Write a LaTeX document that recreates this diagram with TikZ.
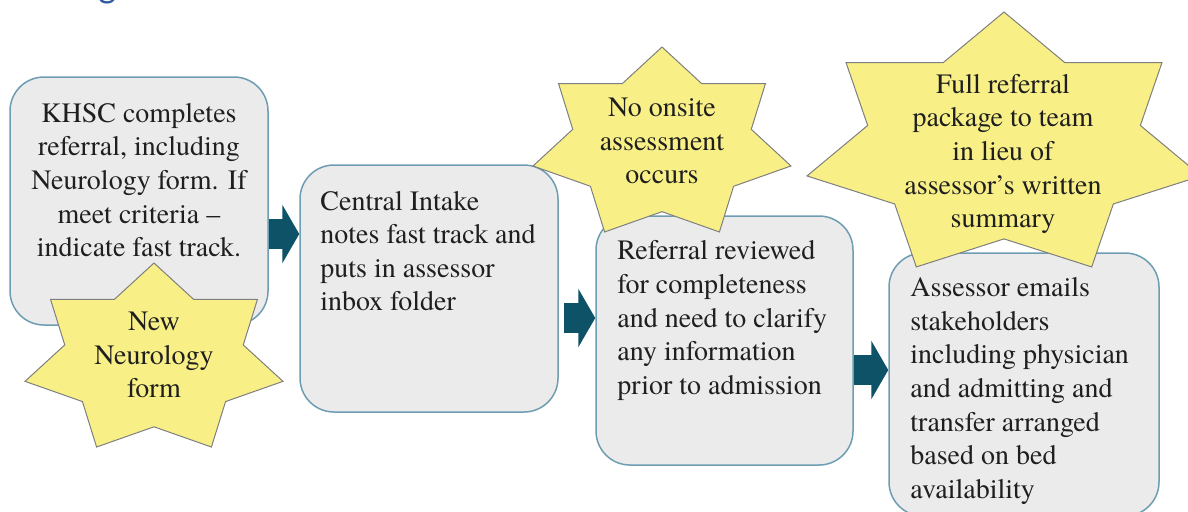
\documentclass[tikz,border=0pt]{standalone}
\usepackage{fontspec}
\setmainfont{TeX Gyre Termes}
\newfontfamily\headfont{Carlito}
\usepackage{xcolor}
\usepackage{tikz}
\usetikzlibrary{arrows.meta}

\definecolor{boxfill}{HTML}{EBEBEB}
\definecolor{boxline}{HTML}{6E9DB3}
\definecolor{burstfill}{HTML}{F8F087}
\definecolor{burstline}{HTML}{7F7F7F}
\definecolor{arrowteal}{HTML}{0D5266}
\definecolor{headblue}{HTML}{2E5D9E}

\tikzset{
  pics/burst/.style 2 args={code={
    \draw[draw=burstline, fill=burstfill, line width=0.5pt]
      plot[samples at={0,...,13}, variable=\k]
      ({ifthenelse(mod(\k,2)==0,1,0.692)*#1*cos(90+\k*180/7)},
       {-ifthenelse(mod(\k,2)==0,1,0.692)*#2*sin(90+\k*180/7)}) -- cycle;
  }}
}

\begin{document}
\begin{tikzpicture}[x=0.5pt, y=-0.5pt, font=\fontsize{14pt}{16.8pt}\selectfont, text=black!88,
  box/.style={draw=boxline, fill=boxfill, line width=0.75pt, rounded corners=17pt, inner sep=0pt},
  boxtext/.style={inner sep=0pt, align=left},
  bursttext/.style={inner sep=0pt, align=center},
  flowarrow/.style={draw=arrowteal, line width=15pt, -{Triangle[width=29pt, length=8.5pt]}}]
  \useasboundingbox (0,0) rectangle (1188,511);
  \node[anchor=base west, inner sep=0pt, text=headblue, font=\headfont\fontsize{19pt}{22pt}\selectfont] (heading) at (98,-3) {g};
  % the four steps
  \node[box, minimum width=129pt, minimum height=124pt] (khsc) at (139,201) {};
  \node[box, minimum width=129pt, minimum height=123.5pt] (intake) at (429,288.5) {};
  \node[box, minimum width=128.5pt, minimum height=124.5pt] (review) at (724.5,340.5) {};
  \node[box, minimum width=135pt, minimum height=131.5pt] (notify) at (1024,384.5) {};
  \node[boxtext, align=center] (khsc text) at (139,180) {KHSC completes\\referral, including\\Neurology form. If\\meet criteria –\\indicate fast track.};
  \node[boxtext, anchor=west] (intake text) at (320,251) {Central Intake\\notes fast track and\\puts in assessor\\inbox folder};
  \node[boxtext, anchor=west] (review text) at (617,320.5) {Referral reviewed\\for completeness\\and need to clarify\\any information\\prior to admission};
  \node[boxtext, anchor=west] (notify text) at (910,391) {Assessor emails\\stakeholders\\including physician\\and admitting and\\transfer arranged\\based on bed\\availability};
  % arrows
  \coordinate (a1) at ([yshift=-16.5pt]khsc.east);
  \coordinate (a2) at ([xshift=2.5pt, yshift=-14.75pt]intake.east);
  \coordinate (a3) at ([yshift=-14.75pt]review.east);
  \draw[flowarrow] (a1) -- (a1 -| intake.west);
  \draw[flowarrow] (a2) -- (a2 -| review.west);
  \draw[flowarrow] (a3) -- (a3 -| notify.west);
  % stars
  \pic at (154,359.8) {burst={132.3}{96.8}};
  \pic at (662,144.3) {burst={132.3}{97.3}};
  \pic at (1004,146.1) {burst={202.1}{134.1}};
  \node[bursttext] (neuro form) at (154,355) {New\\Neurology\\form};
  \node[bursttext] (no onsite) at (662,141) {No onsite\\assessment\\occurs};
  \node[bursttext] (full package) at (1003,154) {Full referral\\package to team\\in lieu of\\assessor’s written\\summary};
\end{tikzpicture}
\end{document}
